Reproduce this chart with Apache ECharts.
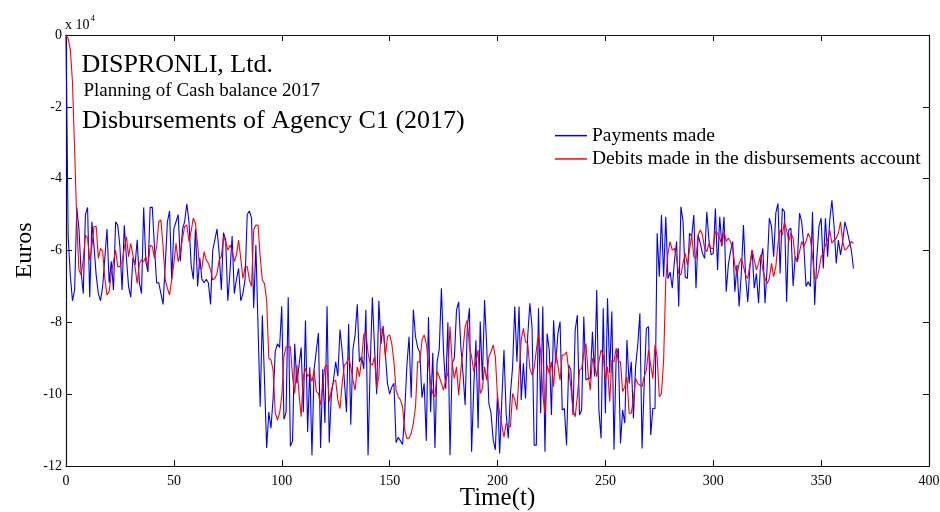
<!DOCTYPE html>
<html>
<head>
<meta charset="utf-8">
<script src="https://cdn.jsdelivr.net/npm/echarts@6/dist/echarts.min.js"></script>
<style>
html,body{margin:0;padding:0;background:#fff;}
#chart{width:940px;height:512px;}
</style>
</head>
<body>
<div id="chart"></div>
<script>
// Values in units of 10^4 euros, one per time step t = 0,1,2,...
var paymentsMade = [
0,-5.6,-6.7,-7.4,-7.1,-4.8,-5.4,-6.6,-7.2,-5.0,
-4.8,-7.3,-5.2,-5.9,-6.7,-7.2,-7.4,-7.0,-6.2,-5.4,
-6.9,-6.3,-7.1,-5.2,-5.3,-5.9,-7.1,-5.3,-6.2,-7.0,
-7.3,-6.2,-6.4,-5.7,-6.9,-7.2,-4.8,-6.3,-6.6,-4.8,
-4.8,-5.9,-6.9,-6.9,-7.2,-7.5,-6.4,-5.2,-4.9,-6.8,
-5.4,-5.2,-5.0,-6.3,-5.4,-5.2,-4.7,-5.2,-6.4,-6.8,
-5.4,-7.0,-6.2,-6.8,-6.9,-6.8,-6.9,-7.5,-6.0,-5.7,
-5.4,-6.1,-7.1,-5.5,-5.7,-7.4,-6.6,-5.6,-7.2,-6.8,
-6.5,-7.4,-7.2,-6.8,-5.0,-4.9,-5.1,-7.6,-5.85,-8.1,
-10.35,-7.8,-9.6,-11.5,-10.5,-10.95,-10.1,-8.8,-8.6,-8.7,
-7.55,-10.7,-10.5,-7.3,-11.45,-11.3,-8.6,-9.7,-9.2,-8.7,
-10.5,-7.95,-11.05,-9.25,-11.7,-9.3,-8.8,-8.3,-11.5,-9.3,
-10.8,-7.55,-11.35,-10.0,-9.6,-9.1,-9.5,-8.2,-8.8,-9.6,
-10.5,-8.05,-10.85,-8.75,-8.35,-7.5,-9.1,-8.95,-9.3,-7.65,
-11.7,-9.2,-7.3,-8.7,-10.0,-7.4,-8.6,-8.1,-8.85,-9.7,
-10.0,-9.8,-9.7,-11.35,-11.2,-11.3,-11.4,-10.5,-9.2,-8.4,
-10.1,-7.65,-8.4,-8.7,-8.85,-10.1,-9.7,-11.3,-7.85,-10.5,
-8.85,-11.5,-9.1,-8.75,-7.05,-8.85,-9.85,-8.0,-11.7,-9.14,
-9.0,-7.66,-7.43,-8.68,-9.42,-10.3,-8.12,-7.61,-11.6,-9.79,
-8.5,-10.95,-7.98,-9.61,-7.38,-8.68,-10.26,-10.53,-11.28,-11.55,
-9.98,-11.65,-10.16,-8.77,-10.53,-11.23,-9.98,-9.24,-7.56,-9.1,
-7.56,-10.16,-9.14,-10.12,-8.4,-7.47,-8.12,-11.42,-11.42,-7.61,
-10.53,-7.56,-11.6,-8.31,-8.77,-10.58,-7.94,-9.14,-8.31,-7.98,
-10.44,-10.4,-11.42,-9.19,-9.33,-10.58,-8.22,-7.8,-10.58,-10.44,
-7.84,-9.61,-9.56,-9.56,-8.26,-9.51,-7.1,-10.44,-11.23,-7.61,
-10.53,-7.33,-9.42,-7.7,-11.55,-8.96,-8.72,-11.37,-10.44,-10.81,
-8.49,-9.7,-9.1,-10.67,-9.24,-8.63,-7.75,-11.51,-9.7,-8.17,
-8.12,-11.14,-10.4,-10.4,-5.52,-6.73,-5.01,-6.73,-5.06,-6.78,
-6.6,-7.05,-6.3,-5.75,-7.56,-4.78,-5.2,-6.73,-6.78,-5.52,
-5.61,-5.01,-7.05,-5.57,-5.8,-6.08,-6.22,-4.92,-5.71,-6.12,
-6.08,-4.83,-6.54,-5.06,-5.89,-5.06,-7.15,-6.4,-6.03,-5.75,
-7.15,-6.4,-7.56,-6.64,-5.29,-6.73,-7.43,-6.45,-5.99,-7.05,
-6.64,-7.47,-6.26,-5.94,-7.47,-6.45,-5.1,-5.33,-6.17,-4.96,
-4.69,-6.64,-4.83,-4.92,-7.43,-5.43,-5.38,-6.99,-6.17,-6.31,
-4.96,-5.2,-5.89,-7.0,-6.87,-7.0,-4.92,-7.52,-6.22,-5.33,
-5.1,-6.5,-5.1,-6.17,-5.15,-4.6,-5.33,-6.36,-5.71,-6.12,
-5.75,-5.2,-5.43,-5.71,-5.99,-6.5
];
var debitsMade = [
0,-0.1,-0.4,-1.3,-3.2,-5.2,-6.54,-6.68,-6.26,-5.57,
-5.66,-6.26,-5.89,-5.33,-5.33,-6.22,-5.94,-6.03,-6.78,-7.24,
-7.15,-6.64,-6.31,-5.99,-6.45,-6.45,-6.31,-5.94,-5.61,-6.17,
-5.8,-6.12,-6.45,-6.92,-6.36,-6.26,-6.31,-6.17,-6.45,-5.85,
-5.89,-6.22,-5.89,-5.2,-5.15,-5.89,-6.82,-7.05,-7.24,-6.82,
-6.36,-5.8,-6.31,-6.08,-5.66,-5.33,-5.29,-5.75,-5.47,-5.1,
-5.24,-5.85,-6.5,-6.5,-6.03,-6.26,-6.36,-6.54,-6.82,-6.78,
-6.64,-6.26,-6.17,-5.61,-5.75,-5.99,-5.85,-5.99,-6.31,-6.12,
-5.71,-6.22,-6.78,-6.45,-6.45,-6.82,-7.0,-5.43,-5.29,-5.3,
-6.17,-6.82,-6.92,-7.38,-9.0,-9.05,-9.33,-10.53,-10.72,-10.53,
-10.07,-8.96,-8.68,-8.68,-8.68,-9.51,-9.98,-9.19,-9.98,-10.63,
-9.51,-9.28,-9.51,-9.42,-9.65,-9.33,-9.93,-9.98,-10.3,-9.75,
-9.24,-9.19,-10.21,-9.89,-9.65,-9.61,-10.16,-10.4,-9.7,-9.19,
-9.14,-8.96,-9.24,-9.61,-9.89,-9.24,-9.51,-9.05,-8.35,-8.26,
-8.86,-9.14,-9.19,-8.96,-9.84,-9.51,-8.21,-8.17,-8.96,-8.4,
-8.35,-8.59,-9.1,-9.89,-10.07,-10.16,-10.35,-11.0,-11.23,-11.23,
-11.09,-10.81,-10.35,-9.1,-9.1,-8.49,-8.35,-8.59,-9.14,-9.7,
-9.98,-10.07,-9.37,-9.51,-9.7,-9.89,-9.61,-9.42,-8.12,-9.14,
-9.56,-9.24,-10.03,-9.33,-8.77,-8.12,-7.94,-8.68,-8.96,-9.37,
-9.1,-8.77,-9.98,-9.84,-9.24,-9.61,-8.96,-8.82,-8.63,-8.96,
-10.07,-10.53,-10.86,-11.2,-10.81,-10.9,-10.9,-9.98,-10.16,-10.44,
-9.42,-8.49,-8.17,-8.54,-8.59,-9.28,-9.47,-9.28,-8.77,-8.31,
-8.82,-9.98,-10.53,-9.19,-9.42,-9.1,-9.79,-8.82,-9.19,-9.61,
-8.91,-8.91,-8.82,-9.33,-9.79,-10.44,-10.63,-10.07,-9.33,-9.28,
-8.86,-8.59,-9.42,-9.89,-9.0,-9.19,-9.51,-9.1,-8.77,-8.91,
-9.61,-9.24,-10.21,-9.05,-9.1,-8.72,-9.1,-9.1,-9.93,-9.79,
-9.51,-10.53,-10.53,-10.16,-9.56,-9.7,-9.75,-9.79,-9.51,-9.33,
-8.77,-9.19,-9.56,-8.63,-8.96,-10.07,-9.98,-9.05,-6.82,-6.08,
-5.75,-5.99,-5.94,-6.22,-6.64,-6.68,-6.36,-6.08,-6.4,-5.99,
-5.57,-6.17,-6.22,-5.57,-5.43,-5.57,-5.94,-6.03,-5.8,-5.94,
-5.94,-5.47,-5.52,-5.66,-5.85,-5.47,-5.75,-5.66,-5.75,-5.94,
-6.4,-6.68,-6.36,-6.22,-6.45,-6.68,-6.78,-6.4,-5.99,-6.26,
-6.54,-6.36,-6.12,-6.54,-6.78,-6.92,-6.78,-6.36,-6.73,-6.45,
-5.8,-5.43,-5.57,-5.2,-5.43,-5.75,-5.52,-5.66,-6.22,-6.31,
-6.03,-5.75,-5.89,-5.75,-5.52,-5.66,-6.17,-6.78,-6.78,-6.54,
-6.17,-6.08,-5.85,-5.71,-5.43,-5.8,-5.71,-5.66,-5.52,-5.2,
-5.75,-5.99,-5.94,-5.85,-5.75,-5.8
];
var seriesNames = ['Payments made', 'Debits made in the disbursements account'];
var xTicks = [0, 50, 100, 150, 200, 250, 300, 350, 400];
var yTicks = [-12, -10, -8, -6, -4, -2, 0];
var titleLines = ['DISPRONLI, Ltd.', 'Planning of Cash balance 2017', 'Disbursements of Agency C1 (2017)'];

var FONT = '"Liberation Serif", "Times New Roman", serif';
function toPairs(arr) { return arr.map(function (v, i) { return [i, v]; }); }

var chart = echarts.init(document.getElementById('chart'), null, {renderer: 'canvas'});
var axisLine = {show: true, onZero: false, lineStyle: {color: '#111', width: 1.2}};
var tick = {show: true, inside: true, length: 6, lineStyle: {color: '#111', width: 1}};
var option = {
  backgroundColor: '#ffffff',
  animation: false,
  grid: {left: 66, right: 11, top: 35, bottom: 46, containLabel: false, outerBoundsMode: 'none'},
  legend: {
    orient: 'vertical', left: 555, top: 124, padding: 0, itemWidth: 32, itemHeight: 1.5, itemGap: 0,
    icon: 'rect', selectedMode: false,
    textStyle: {fontFamily: FONT, fontSize: 19.5, color: '#000', lineHeight: 23.3},
    data: seriesNames
  },
  xAxis: [{
    type: 'value', position: 'bottom', min: xTicks[0], max: xTicks[xTicks.length - 1], interval: 50,
    axisLine: axisLine, axisTick: tick, splitLine: {show: false},
    axisLabel: {fontFamily: FONT, fontSize: 14, color: '#000', margin: 8},
    name: 'Time(t)', nameLocation: 'middle', nameGap: 20, nameMoveOverlap: false,
    nameTextStyle: {fontFamily: FONT, fontSize: 25, color: '#000'}
  }, {
    type: 'value', position: 'top', min: xTicks[0], max: xTicks[xTicks.length - 1], interval: 50,
    axisLine: axisLine, axisTick: tick, splitLine: {show: false}, axisLabel: {show: false}
  }],
  yAxis: [{
    type: 'value', position: 'left', min: yTicks[0], max: yTicks[yTicks.length - 1], interval: 2,
    axisLine: axisLine, axisTick: tick, splitLine: {show: false},
    axisLabel: {fontFamily: FONT, fontSize: 14, color: '#000', margin: 4},
    name: 'Euros', nameLocation: 'middle', nameRotate: 90, nameGap: 29, nameMoveOverlap: false,
    nameTextStyle: {fontFamily: FONT, fontSize: 24, color: '#000'}
  }, {
    type: 'value', position: 'right', min: yTicks[0], max: yTicks[yTicks.length - 1], interval: 2,
    axisLine: axisLine, axisTick: tick, splitLine: {show: false}, axisLabel: {show: false}
  }],
  graphic: [
    {type: 'text', left: 65, top: 14, style: {
      text: '{a|x 10}{b|4}', fill: '#000',
      rich: {a: {fontFamily: FONT, fontSize: 14, verticalAlign: 'bottom', lineHeight: 18},
             b: {fontFamily: FONT, fontSize: 9, verticalAlign: 'top', lineHeight: 18, padding: [0, 0, 8, 1]}}
    }},
    {type: 'text', x: 81.5, y: 64.7, style: {text: titleLines[0], fontFamily: FONT, fontSize: 26, fill: '#000', verticalAlign: 'middle'}},
    {type: 'text', x: 83.5, y: 91, style: {text: titleLines[1], fontFamily: FONT, fontSize: 19, fill: '#000', verticalAlign: 'middle'}},
    {type: 'text', x: 82, y: 120.7, style: {text: titleLines[2], fontFamily: FONT, fontSize: 26, fill: '#000', verticalAlign: 'middle'}}
  ],
  series: [{
    name: seriesNames[0], type: 'line', xAxisIndex: 0, yAxisIndex: 0,
    data: toPairs(paymentsMade), symbol: 'none', color: '#0000ff',
    lineStyle: {color: '#0000ff', width: 1.1}
  }, {
    name: seriesNames[1], type: 'line', xAxisIndex: 0, yAxisIndex: 0,
    data: toPairs(debitsMade), symbol: 'none', color: '#ff0000',
    lineStyle: {color: '#ff0000', width: 1.1}
  }]
};
chart.setOption(option);
</script>
</body>
</html>
